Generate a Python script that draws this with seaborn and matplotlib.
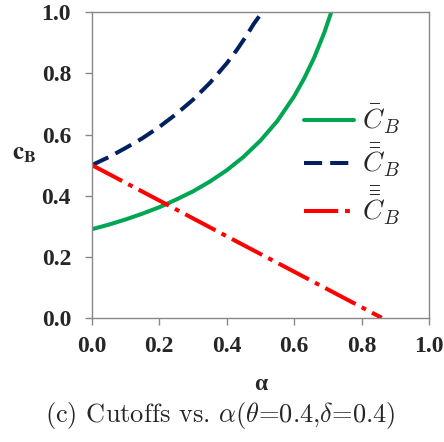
import matplotlib
matplotlib.use("Agg")
import matplotlib.pyplot as plt
import seaborn as sns
import pandas as pd

# Data
alpha_green = [0.0, 0.05, 0.1, 0.15, 0.2, 0.25, 0.3, 0.35, 0.4, 0.45, 0.5, 0.55,
               0.6, 0.63, 0.66, 0.69, 0.71]
cb_green = [0.29, 0.305, 0.322, 0.341, 0.362, 0.387, 0.414, 0.446, 0.483, 0.527,
            0.58, 0.644, 0.725, 0.784, 0.853, 0.935, 1.0]

alpha_blue = [0.0, 0.05, 0.1, 0.15, 0.2, 0.25, 0.3, 0.35, 0.4, 0.43, 0.46, 0.48, 0.505]
cb_blue = [0.5, 0.526, 0.556, 0.588, 0.625, 0.667, 0.714, 0.769, 0.833, 0.877, 0.926,
           0.962, 1.0]

alpha_red = [0.0, 0.2, 0.4, 0.6, 0.86]
cb_red = [0.5, 0.384, 0.267, 0.151, 0.0]

labels = [r"$\bar{C}_B$", r"$\bar{\bar{C}}_B$", r"$\bar{\bar{\bar{C}}}_B$"]
x_ticks = [0.0, 0.2, 0.4, 0.6, 0.8, 1.0]
y_ticks = [0.0, 0.2, 0.4, 0.6, 0.8, 1.0]

sns.set_style("white")
plt.rcParams["mathtext.fontset"] = "cm"

fig = plt.figure(figsize=(4.44, 4.42), dpi=100)
ax = fig.add_axes([0.207, 0.281, 0.759, 0.691])

df_g = pd.DataFrame({"a": alpha_green, "c": cb_green})
df_b = pd.DataFrame({"a": alpha_blue, "c": cb_blue})
df_r = pd.DataFrame({"a": alpha_red, "c": cb_red})

lw = 2.9
sns.lineplot(data=df_g, x="a", y="c", ax=ax, color="#00A651", lw=lw, label=labels[0], sort=False)
sns.lineplot(data=df_b, x="a", y="c", ax=ax, color="#002060", lw=lw, label=labels[1], sort=False)
sns.lineplot(data=df_r, x="a", y="c", ax=ax, color="#FF0000", lw=lw, label=labels[2], sort=False)
ax.lines[1].set_dashes([4.5, 2.0])
ax.lines[2].set_dashes([8.5, 1.7, 1.2, 1.7])

ax.set_xlim(0, 1)
ax.set_ylim(0, 1)
ax.set_xticks(x_ticks)
ax.set_yticks(y_ticks)
ax.set_xticklabels([f"{t:.1f}" for t in x_ticks], fontfamily="Liberation Serif", fontweight="bold", fontsize=17)
ax.set_yticklabels([f"{t:.1f}" for t in y_ticks], fontfamily="Liberation Serif", fontweight="bold", fontsize=17)
ax.tick_params(axis="both", direction="out", length=5, width=1, color="#888888")
ax.tick_params(axis="x", bottom=True, pad=8)
ax.tick_params(axis="y", left=True, pad=10)
for s in ax.spines.values():
    s.set_color("#888888")
    s.set_linewidth(1)

ax.set_xlabel("α", fontfamily="Liberation Serif", fontweight="bold", fontsize=17)
ax.xaxis.set_label_coords(0.5, -0.185)
ax.set_ylabel(r"$\mathbf{c_B}$", fontsize=18, math_fontfamily="stix", rotation=0)
ax.yaxis.set_label_coords(-0.2, 0.5)

leg = ax.legend(loc="center left", bbox_to_anchor=(0.595, 0.50), frameon=False, fontsize=20,
                handlelength=1.8, labelspacing=0.2, handletextpad=0.3, borderaxespad=0)

fig.text(0.497, 0.06, r"(c) Cutoffs vs. $\alpha$($\theta$=0.4,$\delta$=0.4)",
         ha="center", va="center", fontsize=19, fontfamily="cmr10")

fig.savefig("out.png", dpi=100)
